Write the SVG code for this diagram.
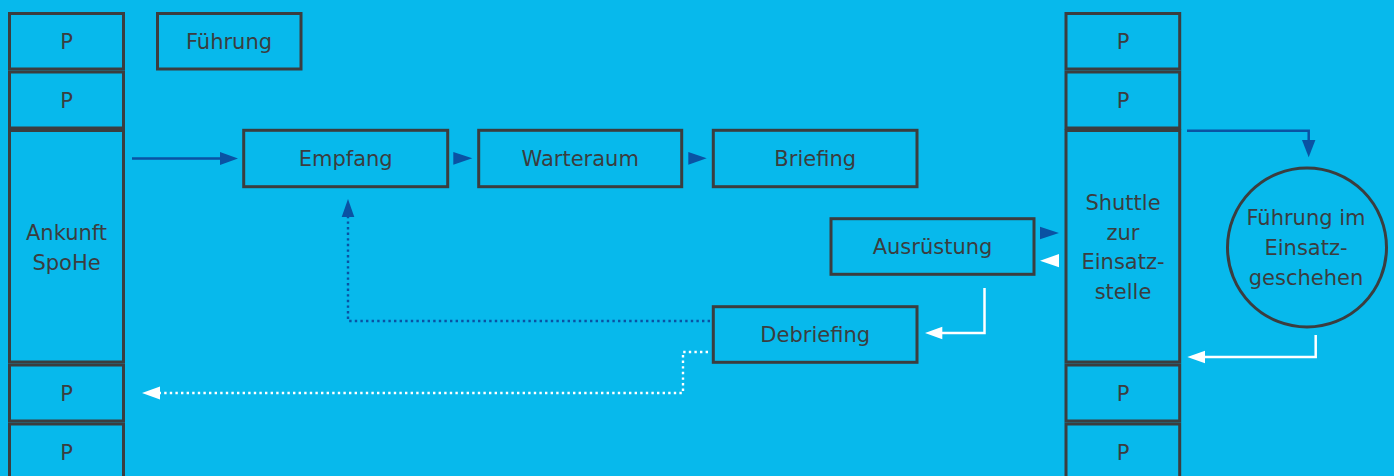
<svg xmlns="http://www.w3.org/2000/svg" width="1394" height="476" viewBox="0 0 1394 476">
<style>
.b{fill:none;stroke:#3b3d3f;stroke-width:3}
.t{font-family:"DejaVu Sans","Liberation Sans",sans-serif;font-size:21px;fill:#3b3d3f;text-anchor:middle}
.bl{fill:none;stroke:#0a52a3;stroke-width:2.5}
.wh{fill:none;stroke:#ffffff;stroke-width:2.5}
.bld{fill:none;stroke:#0a52a3;stroke-width:2.4;stroke-dasharray:2.4 3.2}
.whd{fill:none;stroke:#ffffff;stroke-width:2.4;stroke-dasharray:2.4 3.2}
.ab{fill:#0a52a3}
.aw{fill:#ffffff}
</style>
<rect x="0" y="0" width="1394" height="476" fill="#07b9ec"/>
<g id="left-p1"><rect class="b" x="9.5" y="13.5" width="114" height="55.5"/><text class="t" x="66.5" y="49">P</text></g>
<g id="left-p2"><rect class="b" x="9.5" y="72" width="114" height="56"/><text class="t" x="66.5" y="108">P</text></g>
<g id="ankunft"><rect class="b" x="9.5" y="130.5" width="114" height="231.5"/><text class="t" x="66.5" y="240">Ankunft</text><text class="t" x="66.5" y="269.5">SpoHe</text></g>
<g id="left-p3"><rect class="b" x="9.5" y="365" width="114" height="56"/><text class="t" x="66.5" y="401">P</text></g>
<g id="left-p4"><rect class="b" x="9.5" y="424" width="114" height="60"/><text class="t" x="66.5" y="460">P</text></g>
<g id="fuehrung"><rect class="b" x="157.5" y="13.5" width="143.5" height="55.5"/><text class="t" x="229" y="49">Führung</text></g>
<g id="empfang"><rect class="b" x="243.7" y="130.3" width="204" height="56.4"/><text class="t" x="345.7" y="166">Empfang</text></g>
<g id="warteraum"><rect class="b" x="478.7" y="130.3" width="203" height="56.4"/><text class="t" x="580.2" y="166">Warteraum</text></g>
<g id="briefing"><rect class="b" x="713.3" y="130.3" width="203.7" height="56.4"/><text class="t" x="815.2" y="166">Briefing</text></g>
<g id="ausruestung"><rect class="b" x="831" y="218.7" width="203" height="55.6"/><text class="t" x="932.5" y="254">Ausrüstung</text></g>
<g id="debriefing"><rect class="b" x="713.3" y="306.7" width="203.7" height="55.6"/><text class="t" x="815.2" y="342">Debriefing</text></g>
<g id="right-p1"><rect class="b" x="1066" y="13.5" width="113.7" height="55.5"/><text class="t" x="1123" y="49">P</text></g>
<g id="right-p2"><rect class="b" x="1066" y="72" width="113.7" height="56"/><text class="t" x="1123" y="108">P</text></g>
<g id="shuttle"><rect class="b" x="1066" y="130.5" width="113.7" height="231.5"/><text class="t" x="1123" y="210">Shuttle</text><text class="t" x="1123" y="239.5">zur</text><text class="t" x="1123" y="269">Einsatz-</text><text class="t" x="1123" y="298.5">stelle</text></g>
<g id="right-p3"><rect class="b" x="1066" y="365" width="113.7" height="56"/><text class="t" x="1123" y="401">P</text></g>
<g id="right-p4"><rect class="b" x="1066" y="424" width="113.7" height="60"/><text class="t" x="1123" y="460">P</text></g>
<g id="einsatz"><circle class="b" cx="1307" cy="247.5" r="79.5"/><text class="t" x="1306" y="225">Führung im</text><text class="t" x="1306" y="255">Einsatz-</text><text class="t" x="1306" y="284.5">geschehen</text></g>
<g id="connectors">
<path class="bl" d="M132 158.5H221"/><polygon class="ab" points="238,158.5 220,152 220,165"/>
<polygon class="ab" points="472.3,158.3 453.3,152 453.3,164.7"/>
<polygon class="ab" points="706.7,158.3 688.3,152 688.3,164.7"/>
<polygon class="ab" points="1059,233 1040,226.7 1040,239.3"/>
<polygon class="aw" points="1040,260.7 1059,254 1059,267.3"/>
<path class="wh" d="M984.5 288V333H941"/><polygon class="aw" points="925,333 942.3,326.7 942.3,339.3"/>
<path class="bl" d="M1187 130.7H1308.7V141"/><polygon class="ab" points="1308.7,157.3 1302,140 1315.4,140"/>
<path class="wh" d="M1315.7 335V357H1204"/><polygon class="aw" points="1187.3,357 1205,350.7 1205,363.3"/>
<path class="bld" d="M710 321H348V217"/><polygon class="ab" points="348,199 341.7,217 354.3,217"/>
<path class="whd" d="M708 352H683V393H160"/><polygon class="aw" points="142,393 160,386.5 160,399.5"/>
</g>
</svg>
